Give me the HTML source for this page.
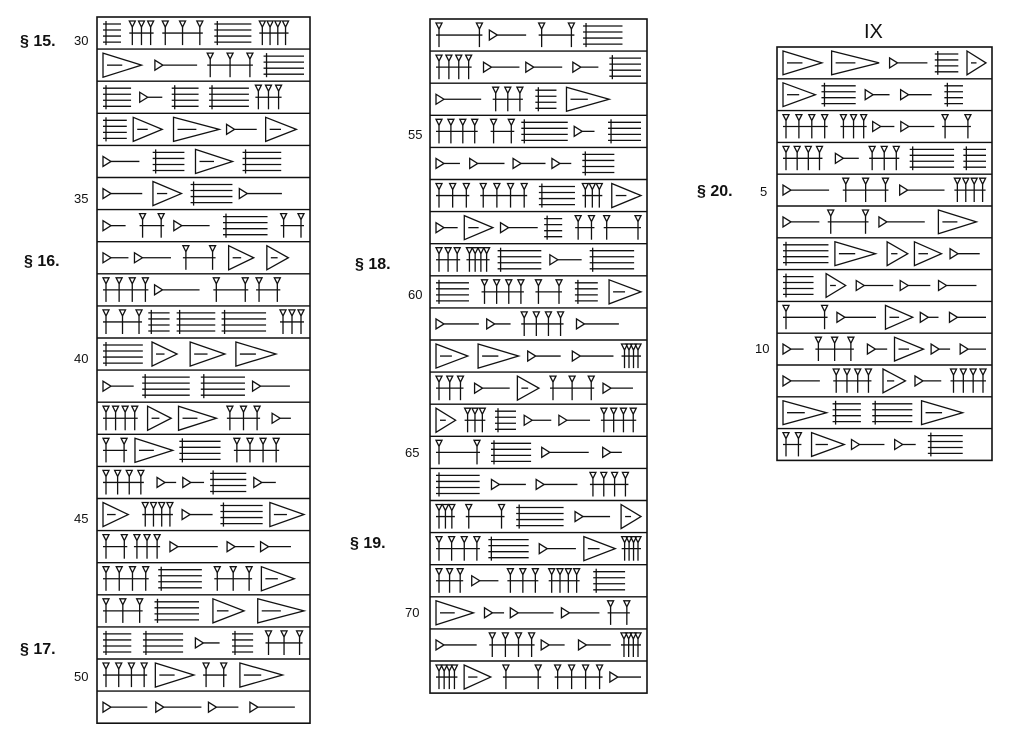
<!DOCTYPE html>
<html><head><meta charset="utf-8"><style>
html,body{margin:0;padding:0;background:#fff;width:1024px;height:748px;overflow:hidden}
svg{position:absolute;left:0;top:0}
text{font-family:"Liberation Sans",sans-serif;fill:#111}
</style></head><body>
<svg id="s" width="1024" height="748" viewBox="0 0 1024 748" xmlns="http://www.w3.org/2000/svg">
<g font-size="16" font-weight="bold">
<text x="20" y="46">§ 15.</text>
<text x="24" y="266">§ 16.</text>
<text x="20" y="654">§ 17.</text>
<text x="355" y="269">§ 18.</text>
<text x="350" y="548">§ 19.</text>
<text x="697" y="196">§ 20.</text>
</g>
<g font-size="13">
<text x="74" y="45">30</text>
<text x="74" y="203">35</text>
<text x="74" y="363">40</text>
<text x="74" y="523">45</text>
<text x="74" y="681">50</text>
<text x="408" y="139">55</text>
<text x="408" y="299">60</text>
<text x="405" y="457">65</text>
<text x="405" y="617">70</text>
<text x="760" y="196">5</text>
<text x="755" y="353">10</text>
</g>
<text x="864" y="38" font-size="20">IX</text>
<g id="g" stroke="#111" fill="none" stroke-width="1.3"></g>
</svg>
<script>
var g=document.getElementById('g');var NS='http://www.w3.org/2000/svg';
var seed=7;function r(){seed=(seed*16807)%2147483647;return seed/2147483647;}
function el(n,a){var e=document.createElementNS(NS,n);for(var k in a)e.setAttribute(k,a[k]);g.appendChild(e);return e;}
function col(x1,x2,y1,n,h){
 el('rect',{x:x1,y:y1,width:x2-x1,height:n*h,'stroke-width':1.6});
 for(var i=1;i<n;i++)el('line',{x1:x1,x2:x2,y1:y1+i*h,y2:y1+i*h,'stroke-width':1.4});
 for(var i=0;i<n;i++){
  var top=y1+i*h+4,bot=y1+(i+1)*h-4,mid=(top+bot)/2;
  var x=x1+6;
  while(x<x2-25){
   var w=18+r()*30;if(x+w>x2-6)w=x2-6-x;var t=r();
   if(t<0.3){
     el('path',{d:'M'+x+' '+(mid-5)+'L'+(x+8)+' '+mid+'L'+x+' '+(mid+5)+'Z'});
     el('line',{x1:x+8,y1:mid,x2:x+w,y2:mid});
   } else if(t<0.55){
     el('path',{d:'M'+x+' '+top+'L'+(x+w)+' '+mid+'L'+x+' '+bot+'Z'});
     el('line',{x1:x+4,y1:mid,x2:x+w*0.5,y2:mid});
   } else if(t<0.8){
     var k=2+Math.floor(r()*3);
     for(var j=0;j<k;j++){var xx=x+3+j*((w-6)/Math.max(1,k-1));
      el('path',{d:'M'+(xx-3)+' '+top+'L'+(xx+3)+' '+top+'L'+xx+' '+(top+6)+'Z'});
      el('line',{x1:xx,y1:top+6,x2:xx,y2:bot});}
     el('line',{x1:x,y1:mid,x2:x+w,y2:mid});
   } else {
     for(var j=0;j<4;j++){var yy=top+3+j*(bot-top-6)/3;el('line',{x1:x,y1:yy,x2:x+w,y2:yy});}
     el('line',{x1:x+3,y1:top,x2:x+3,y2:bot});
   }
   x+=w+6+r()*8;
  }
 }
}
col(97,310,17,22,32.1);
col(430,647,19,21,32.1);
col(777,992,47,13,31.8);
</script>
</body></html>
